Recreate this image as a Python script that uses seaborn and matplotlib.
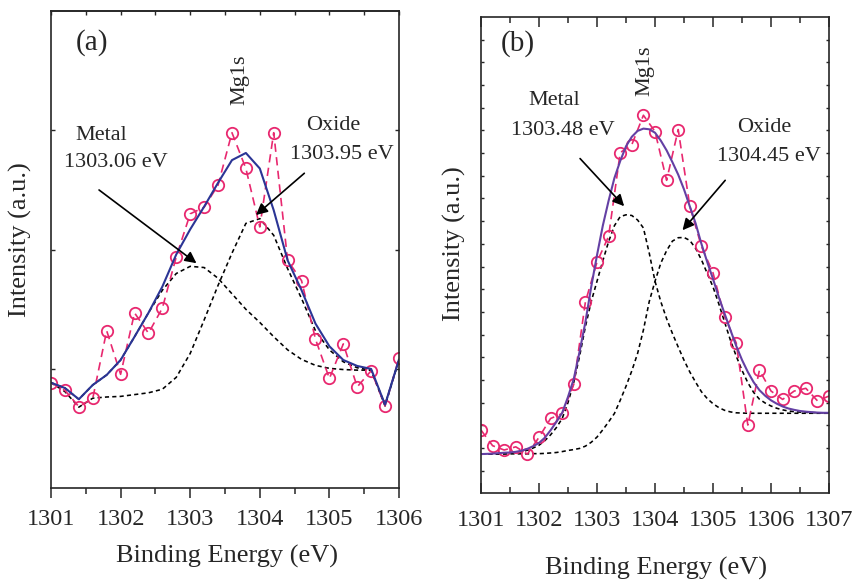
import matplotlib
matplotlib.use("Agg")
import matplotlib.pyplot as plt
from matplotlib.ticker import MultipleLocator, NullFormatter
import seaborn as sns
import pandas as pd

# ---------------- data: panel (a) ----------------
energy_a = [1301.0, 1301.2, 1301.4, 1301.6, 1301.8, 1302.0, 1302.2, 1302.4, 1302.6,
            1302.8, 1303.0, 1303.2, 1303.4, 1303.6, 1303.8, 1304.0, 1304.2, 1304.4,
            1304.6, 1304.8, 1305.0, 1305.2, 1305.4, 1305.6, 1305.8, 1306.0]
raw_a = [0.885, 0.82, 0.684, 0.754, 1.32, 0.955, 1.47, 1.30, 1.51, 1.94, 2.30, 2.355, 2.54,
         2.98, 2.68, 2.19, 2.98, 1.91, 1.74, 1.25, 0.92, 1.21, 0.85, 0.985, 0.69, 1.09]
fit_a = [0.885, 0.84, 0.746, 0.866, 0.95, 1.075, 1.27, 1.47, 1.69, 1.96, 2.17, 2.36, 2.56,
         2.75, 2.81, 2.68, 2.33, 1.91, 1.66, 1.38, 1.19, 1.075, 1.025, 1.0, 0.70, 1.08]
metal_a = [0.885, 0.84, 0.746, 0.866, 0.95, 1.075, 1.27, 1.47, 1.66, 1.80, 1.86, 1.85, 1.76,
           1.63, 1.50, 1.39, 1.27, 1.16, 1.08, 1.03, 1.005, 0.995, 0.99, 0.99, 0.70, 1.08]
oxide_a = [0.885, 0.81, 0.68, 0.755, 0.765, 0.77, 0.785, 0.80, 0.83, 0.93, 1.13, 1.41, 1.70,
           1.97, 2.22, 2.26, 2.12, 1.84, 1.59, 1.32, 1.16, 1.06, 1.01, 0.99, 0.69, 1.075]

# ---------------- data: panel (b) ----------------
energy_b = [1301.0, 1301.2, 1301.4, 1301.6, 1301.8, 1302.0, 1302.2, 1302.4, 1302.6, 1302.8,
            1303.0, 1303.2, 1303.4, 1303.6, 1303.8, 1304.0, 1304.2, 1304.4, 1304.6, 1304.8,
            1305.0, 1305.2, 1305.4, 1305.6, 1305.8, 1306.0, 1306.2, 1306.4, 1306.6, 1306.8,
            1307.0]
raw_b = [2.79, 2.10, 1.91, 2.05, 1.73, 2.47, 3.30, 3.52, 4.81, 8.44, 10.20, 11.33, 15.02,
         15.37, 16.67, 15.95, 13.80, 16.04, 12.66, 10.89, 9.72, 7.78, 6.63, 3.01, 5.43, 4.51,
         4.14, 4.51, 4.63, 4.08, 4.29]
fine_b = [1301.0, 1301.1, 1301.2, 1301.3, 1301.4, 1301.5, 1301.6, 1301.7, 1301.8, 1301.9,
          1302.0, 1302.1, 1302.2, 1302.3, 1302.4, 1302.5, 1302.6, 1302.7, 1302.8, 1302.9,
          1303.0, 1303.1, 1303.2, 1303.3, 1303.4, 1303.5, 1303.6, 1303.7, 1303.8, 1303.9,
          1304.0, 1304.1, 1304.2, 1304.3, 1304.4, 1304.5, 1304.6, 1304.7, 1304.8, 1304.9,
          1305.0, 1305.1, 1305.2, 1305.3, 1305.4, 1305.5, 1305.6, 1305.7, 1305.8, 1305.9,
          1306.0, 1306.1, 1306.2, 1306.3, 1306.4, 1306.5, 1306.6, 1306.7, 1306.8, 1306.9,
          1307.0]
fit_b = [1.73, 1.74, 1.75, 1.77, 1.79, 1.80, 1.83, 1.88, 1.96, 2.08,
         2.22, 2.45, 2.78, 3.15, 3.55, 4.25, 5.05, 6.25, 7.55, 9.10,
         10.50, 11.80, 12.90, 13.90, 14.65, 15.30, 15.72, 15.98, 16.08, 16.05,
         15.90, 15.55, 15.12, 14.60, 14.05, 13.40, 12.65, 11.90, 11.00, 10.20,
         9.45, 8.65, 7.92, 7.20, 6.50, 5.88, 5.35, 4.90, 4.55, 4.30,
         4.10, 3.95, 3.83, 3.74, 3.68, 3.63, 3.60, 3.58, 3.56, 3.55,
         3.55]
metal_b = [1.73, 1.73, 1.74, 1.75, 1.77, 1.78, 1.80, 1.84, 1.90, 2.00,
           2.12, 2.32, 2.58, 2.90, 3.30, 4.00, 4.90, 6.05, 7.35, 8.45,
           9.35, 10.25, 11.10, 11.80, 12.20, 12.28, 12.25, 12.05, 11.70, 10.60,
           9.35, 8.45, 7.70, 7.05, 6.45, 5.87, 5.35, 4.90, 4.48, 4.18,
           3.95, 3.78, 3.66, 3.59, 3.55, 3.54, 3.53, 3.53, 3.53, 3.53,
           3.53, 3.53, 3.53, 3.53, 3.53, 3.53, 3.53, 3.53, 3.53, 3.53,
           3.53]
oxide_b = [1.73, 1.73, 1.73, 1.73, 1.73, 1.74, 1.74, 1.74, 1.74, 1.75,
           1.75, 1.76, 1.78, 1.80, 1.84, 1.89, 1.93, 1.98, 2.08, 2.25,
           2.48, 2.80, 3.15, 3.52, 4.10, 4.72, 5.40, 6.17, 7.20, 8.45,
           9.35, 10.15, 10.70, 11.12, 11.27, 11.28, 11.15, 10.80, 10.30, 9.70,
           9.10, 8.35, 7.55, 6.75, 6.05, 5.42, 4.88, 4.45, 4.15, 3.98,
           3.85, 3.75, 3.68, 3.63, 3.60, 3.58, 3.57, 3.56, 3.55, 3.55,
           3.55]

xticks_a = [1301, 1302, 1303, 1304, 1305, 1306]
xticks_b = [1301, 1302, 1303, 1304, 1305, 1306, 1307]

# ---------------- style ----------------
sns.set_theme(style="ticks")
plt.rcParams["font.family"] = ["Liberation Serif", "DejaVu Serif"]
plt.rcParams["mathtext.fontset"] = "stix"

PINK = "#E8286F"
BLUE = "#2B3595"
PURPLE = "#6440A4"
SPINE = "#262626"

fig = plt.figure(figsize=(8.56, 5.81), dpi=100)
ax_a = fig.add_axes([0.0596, 0.1596, 0.4065, 0.8215])
ax_b = fig.add_axes([0.5619, 0.1509, 0.4066, 0.8198])

dfa = pd.DataFrame({"E": energy_a, "raw": raw_a, "fit": fit_a, "metal": metal_a, "oxide": oxide_a})
dfb_raw = pd.DataFrame({"E": energy_b, "raw": raw_b})
dfb = pd.DataFrame({"E": fine_b, "fit": fit_b, "metal": metal_b, "oxide": oxide_b})

black_dash = (0, (2.6, 2.0))
pink_dash = (0, (5.0, 3.2))


def draw(ax, df_raw, df_comp, fit_color):
    for comp in ["metal", "oxide"]:
        sns.lineplot(data=df_comp, x="E", y=comp, ax=ax, color="black", lw=1.15,
                     linestyle=black_dash, estimator=None, sort=False)
    sns.lineplot(data=df_raw, x="E", y="raw", ax=ax, color=PINK, lw=1.2,
                 linestyle=pink_dash, marker="o", markersize=8.2,
                 markerfacecolor="none", markeredgecolor=PINK, markeredgewidth=1.3,
                 estimator=None, sort=False)
    sns.lineplot(data=df_comp, x="E", y="fit", ax=ax, color=fit_color, lw=1.5,
                 estimator=None, sort=False)


draw(ax_a, dfa, dfa, BLUE)
draw(ax_b, dfb_raw, dfb, PURPLE)

TICK_FS = 17.5
LABEL_FS = 19
ANN_FS = 16

for ax in (ax_a, ax_b):
    for s in ax.spines.values():
        s.set_visible(True)
        s.set_linewidth(1.2)
        s.set_color(SPINE)
    ax.set_xlabel("Binding Energy (eV)", fontsize=LABEL_FS, va="center")
    ax.set_ylabel("Intensity (a.u.)", fontsize=LABEL_FS, va="center")
    ax.yaxis.set_major_formatter(NullFormatter())
    ax.xaxis.set_minor_locator(MultipleLocator(0.5))

# panel (a) axes
ax_a.set_xlim(1301, 1306)
ax_a.set_ylim(0, 4)
ax_a.set_xticks(xticks_a)
ax_a.set_xticklabels([str(t) for t in xticks_a])
ax_a.set_yticks([1, 2, 3])
ax_a.tick_params(axis="x", which="major", direction="out", length=7, width=1.1,
                 color=SPINE, labelsize=TICK_FS, pad=8, top=False)
ax_a.tick_params(axis="x", which="minor", direction="out", length=4.5, width=1.1,
                 color=SPINE, top=False)
ax_a.tick_params(axis="y", which="major", direction="in", length=3, width=1.0,
                 color=SPINE, left=True, right=True)
sec_a = ax_a.secondary_xaxis("top")
sec_a.set_xticks(xticks_a)
sec_a.xaxis.set_minor_locator(MultipleLocator(0.5))
sec_a.tick_params(axis="x", which="both", direction="in", length=3, width=1.0,
                  color=SPINE, labeltop=False)
sec_a.spines["top"].set_linewidth(1.2)
sec_a.spines["top"].set_color(SPINE)
ax_a.xaxis.set_label_coords(0.506, -0.142)
ax_a.yaxis.set_label_coords(-0.089, 0.522)

# panel (b) axes
ax_b.set_xlim(1301, 1307)
ax_b.set_ylim(0, 21)
ax_b.set_xticks(xticks_b)
ax_b.set_xticklabels([str(t) for t in xticks_b])
ax_b.set_yticks(list(range(1, 21)))
ax_b.tick_params(axis="x", which="major", direction="in", length=7, width=1.1,
                 color=SPINE, labelsize=TICK_FS, pad=12, top=True)
ax_b.tick_params(axis="x", which="minor", direction="in", length=4, width=1.1,
                 color=SPINE, top=True)
ax_b.tick_params(axis="y", which="major", direction="in", length=2.5, width=1.0,
                 color=SPINE, left=True, right=True)
ax_b.xaxis.set_label_coords(0.502, -0.158)
ax_b.yaxis.set_label_coords(-0.075, 0.525)

# ---------------- annotations ----------------
arrow = dict(arrowstyle="-|>", color="black", lw=1.2, mutation_scale=17,
             shrinkA=0, shrinkB=0)

ax_a.text(1301.589, 3.733, "(a)", fontsize=21, ha="center", va="center")
ax_a.text(1303.708, 3.422, "Mg1s", fontsize=ANN_FS, rotation=90, ha="center", va="center")
ax_a.text(1301.726, 2.953, "Metal", fontsize=ANN_FS, ha="center", va="center")
ax_a.text(1301.927, 2.727, "1303.06 eV", fontsize=ANN_FS, ha="center", va="center")
ax_a.text(1305.052, 3.038, "Oxide", fontsize=ANN_FS, ha="center", va="center")
ax_a.text(1305.181, 2.794, "1303.95 eV", fontsize=ANN_FS, ha="center", va="center")
ax_a.annotate("", xy=(1303.09, 1.886), xytext=(1301.69, 2.50), arrowprops=arrow)
ax_a.annotate("", xy=(1303.945, 2.29), xytext=(1304.64, 2.64), arrowprops=arrow)

ax_b.text(1301.63, 19.84, "(b)", fontsize=21, ha="center", va="center")
ax_b.text(1303.83, 18.65, "Mg1s", fontsize=ANN_FS, rotation=90, ha="center", va="center")
ax_b.text(1302.26, 17.33, "Metal", fontsize=ANN_FS, ha="center", va="center")
ax_b.text(1302.42, 16.0, "1303.48 eV", fontsize=ANN_FS, ha="center", va="center")
ax_b.text(1305.875, 16.11, "Oxide", fontsize=ANN_FS, ha="center", va="center")
ax_b.text(1305.97, 14.86, "1304.45 eV", fontsize=ANN_FS, ha="center", va="center")
ax_b.annotate("", xy=(1303.468, 12.66), xytext=(1302.708, 14.76), arrowprops=arrow)
ax_b.annotate("", xy=(1304.474, 11.60), xytext=(1305.21, 13.80), arrowprops=arrow)

fig.savefig("out.png", dpi=100, facecolor="white")
